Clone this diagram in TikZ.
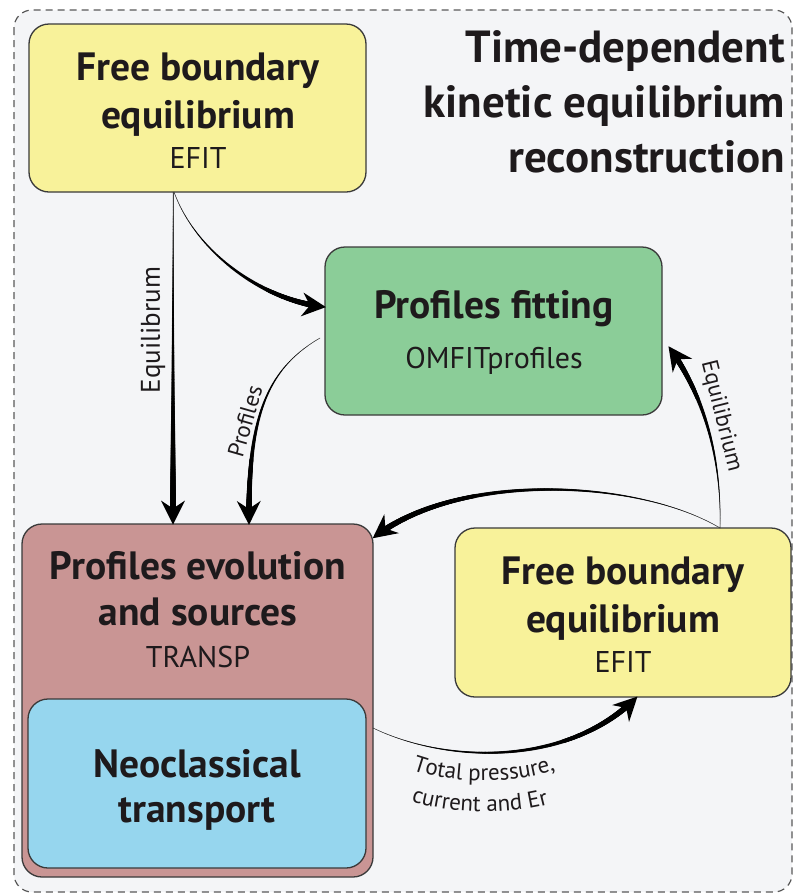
\documentclass[tikz,border=0pt]{standalone}
\usepackage{fontspec}
\setmainfont{PT Sans}
\usetikzlibrary{decorations.markings,decorations.text}

\definecolor{bgc}{HTML}{F4F5F7}
\definecolor{yel}{HTML}{F8F29A}
\definecolor{grn}{HTML}{8BCD98}
\definecolor{pnk}{HTML}{C99594}
\definecolor{blu}{HTML}{96D6EE}
\definecolor{edgec}{HTML}{3A3A3A}
\definecolor{inkc}{HTML}{1E1A1C}

\newcommand\BoxFont{\fontsize{39.5}{42}\selectfont\bfseries}
\newcommand\SubFont{\fontsize{30}{33}\selectfont}
\newcommand\TitleFont{\fontsize{45}{48}\selectfont\bfseries}
\newcommand\LblFont{\fontsize{23}{26}\selectfont}
\newcommand\BigLblFont{\fontsize{27}{30}\selectfont}

\tikzset{
  box/.style={draw=edgec, line width=1.3pt, rounded corners=20pt, inner sep=0pt, outer sep=0pt},
  txt/.style={anchor=base, inner sep=0pt, text=inkc},
  lbl/.style={inner sep=0pt, text=inkc, font=\LblFont},
  flow/.style={draw=black!70, line width=0.5pt,
    postaction={decorate, decoration={markings,
      mark=between positions 0 and 0.96 step 0.6pt with {%
        \pgfmathsetmacro\tr{0.15+2.85*((\pgfkeysvalueof{/pgf/decoration/mark info/distance from start})/\pgfdecoratedpathlength/0.96)^1.3}%
        \fill[black] (0,0) circle (\tr pt);}}},
    postaction={decorate, decoration={markings,
      mark=at position 0.997 with {%
        \fill[black] (1.5pt,0pt) -- (-22.5pt,12pt) -- (-14.5pt,0pt) -- (-22.5pt,-12pt) -- cycle;}}}}
}

\begin{document}
\begin{tikzpicture}[x=1pt,y=-1pt]
\useasboundingbox (0,0) rectangle (794,895);
% outer dashed frame
\draw[dash pattern=on 7pt off 5pt, line width=1.2pt, draw=black!65, fill=bgc, rounded corners=18pt] (14,10) rectangle (792,892);

% title
\node[txt, anchor=base east, font=\TitleFont] (t1) at (785,62) {Time-dependent};
\node[txt, anchor=base east, font=\TitleFont] (t2) at (785,117) {kinetic equilibrium};
\node[txt, anchor=base east, font=\TitleFont] (t3) at (785,172) {reconstruction};

% boxes
\node[box, fill=yel, minimum width=337pt, minimum height=168pt] (b1) at (197.5,108) {};
\node[txt, font=\BoxFont] (b1a) at (198,80) {Free boundary};
\node[txt, font=\BoxFont] (b1b) at (198,128) {equilibrium};
\node[txt, font=\SubFont] (b1c) at (198,168) {EFIT};

\node[box, fill=grn, minimum width=337pt, minimum height=168pt] (gr) at (493.5,331) {};
\node[txt, font=\BoxFont] (gra) at (494,318) {Profiles fitting};
\node[txt, font=\SubFont] (grb) at (494,368) {OMFITprofiles};

\node[box, fill=pnk, minimum width=351pt, minimum height=353pt] (pk) at (197.5,700.5) {};
\node[txt, font=\BoxFont] (pka) at (198,579) {Profiles evolution};
\node[txt, font=\BoxFont] (pkb) at (198,625) {and sources};
\node[txt, font=\SubFont] (pkc) at (198,667) {TRANSP};

\node[box, fill=blu, minimum width=338pt, minimum height=169pt] (bl) at (197,783.5) {};
\node[txt, font=\BoxFont] (bla) at (197,777) {Neoclassical};
\node[txt, font=\BoxFont] (blb) at (197,822) {transport};

\node[box, fill=yel, minimum width=336pt, minimum height=169pt] (y2) at (623,612.5) {};
\node[txt, font=\BoxFont] (y2a) at (623,584) {Free boundary};
\node[txt, font=\BoxFont] (y2b) at (623,632) {equilibrium};
\node[txt, font=\SubFont] (y2c) at (623,672) {EFIT};

% connectors
\draw[flow] ([xshift=144pt]b1.south west) -- ([xshift=151pt]pk.north west);
\draw[flow] ([xshift=145pt]b1.south west) .. controls (195,250) and (260,300) .. ([yshift=24pt]gr.west);
\draw[flow] ([xshift=-5pt,yshift=-7pt]gr.west) .. controls (265,370) and (248,420) .. ([xshift=227pt]pk.north west);
\draw[flow] ([xshift=265pt]y2.north west) .. controls (640,480) and (460,470) .. ([yshift=-14pt]pk.north east);
\draw[flow] ([xshift=265pt]y2.north west) .. controls (722,450) and (700,390) .. ([xshift=7pt,yshift=-16pt]gr.east);
\draw[flow] ([yshift=-27.5pt]pk.east) .. controls (450,765) and (570,765) .. ([xshift=182pt]y2.south west);

% labels
\node[lbl, font=\BigLblFont, rotate=90] (l1) at (153,330) {Equilibrum};
\node[lbl, rotate=74] (l2) at (245,421) {Profiles};
\node[lbl, rotate=-76] (l3) at (721,416) {Equilibrium};
\path[decorate, decoration={text along path, text align=center, text color=inkc,
  text={|\LblFont|Total pressure,}}] (399,764) .. controls (440,786) and (520,786) .. (569,765);
\path[decorate, decoration={text along path, text align=center, text color=inkc,
  text={|\LblFont|current and Er}}] (396,795) .. controls (440,816) and (520,817) .. (564,799);
\end{tikzpicture}
\end{document}
